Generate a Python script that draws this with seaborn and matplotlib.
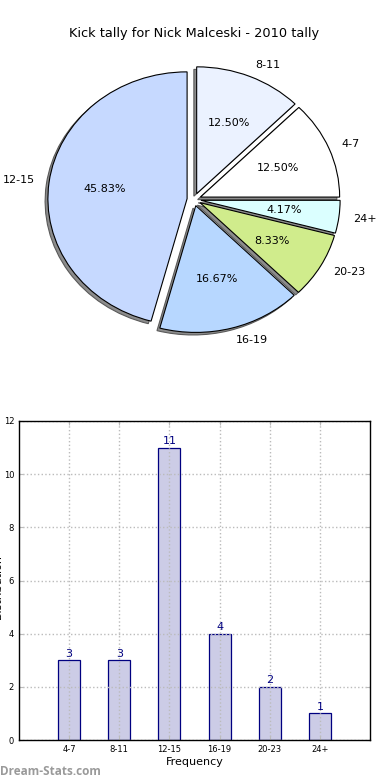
import numpy as np
import seaborn as sns
import matplotlib.pyplot as plt
from matplotlib.patches import Wedge

categories = ['4-7', '8-11', '12-15', '16-19', '20-23', '24+']
kicks = [3, 3, 11, 4, 2, 1]
pie_colors = ['#ffffff', '#ebf2ff', '#c6d9ff', '#b7d7ff', '#d0ec8c', '#dbffff']

sns.set_style('white')
plt.rcParams['font.family'] = ['DejaVu Sans']
plt.rcParams['text.color'] = 'black'
plt.rcParams['axes.labelcolor'] = 'black'
plt.rcParams['xtick.color'] = 'black'
plt.rcParams['ytick.color'] = 'black'

fig = plt.figure(figsize=(3.9, 7.8), dpi=100)
ax1 = fig.add_axes([20/390, 1 - 358/780, 348/390, 317/780])
ax2 = fig.add_axes([19/390, 40/780, 351/390, 319/780])

# pie on top
wedges, texts, autotexts = ax1.pie(
    kicks, labels=categories, colors=pie_colors,
    explode=[0.05] * len(kicks), autopct='%1.2f%%', startangle=0,
    wedgeprops={'edgecolor': 'black', 'linewidth': 0.8, 'zorder': 2},
    textprops={'fontsize': 8})
# old-style shadow: grey copy of each wedge shifted down-left
for w in wedges:
    cx, cy = w.center
    ax1.add_patch(Wedge((cx - 0.02, cy - 0.02), w.r, w.theta1, w.theta2,
                        facecolor='#8c8c8c', edgecolor='#5a5a5a',
                        linewidth=0.8, zorder=1))
ax1.set_aspect('auto')
ax1.set_xlim(-1.25, 1.25)
ax1.set_ylim(-1.25, 1.25)
ax1.set_title('Kick tally for Nick Malceski - 2010 tally', fontsize=9.3, pad=3)

# bar chart below
sns.barplot(x=categories, y=kicks, ax=ax2, color='#ccccE6', edgecolor='#000080',
            linewidth=0.9, width=0.44, saturation=1)
ax2.set_xlim(-1, 6)
ax2.set_ylim(0, 12)
ax2.set_yticks(np.arange(0, 13, 2))
ax2.grid(True, linestyle=':', color='#bbbbbb', linewidth=1)
ax2.set_axisbelow(False)
for s in ax2.spines.values():
    s.set_visible(True)
    s.set_color('black')
    s.set_linewidth(1)
    s.set_zorder(5)
ax2.tick_params(labelsize=6, direction='in', length=3, color='#bbbbbb',
                labelcolor='black', top=True, right=True, bottom=True, left=True)
ax2.bar_label(ax2.containers[0], color='#000080', fontsize=8, padding=1)
ax2.set_xlabel('Frequency', fontsize=8, labelpad=2)
ax2.set_ylabel('Distribution', fontsize=8)
ax2.yaxis.set_label_coords(-0.045, 0.48)

fig.text(0.0, 0.006, 'Dream-Stats.com', color='#9a9a9a', fontsize=8.5,
         fontweight='bold', family=['Open Sans', 'DejaVu Sans'])

fig.savefig('out.png', dpi=100)
